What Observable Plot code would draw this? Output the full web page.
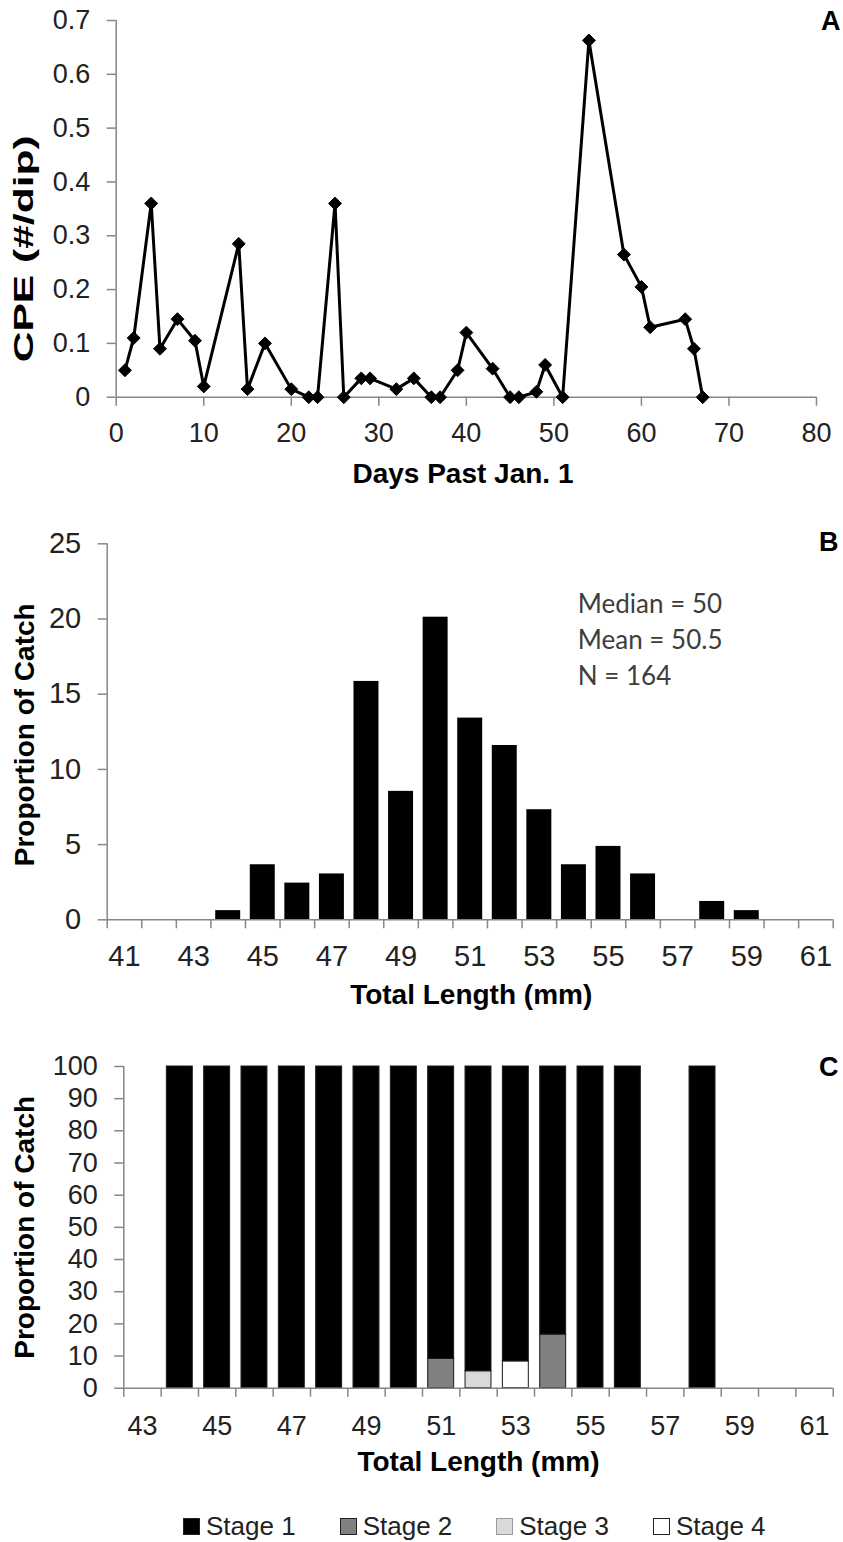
<!DOCTYPE html>
<html>
<head>
<meta charset="utf-8">
<script src="https://cdn.jsdelivr.net/npm/d3@7"></script>
<script src="https://cdn.jsdelivr.net/npm/@observablehq/plot@0.6"></script>
<style>
  body { margin: 0; background: #fff; }
  #fig { width: 843px; }
  #fig svg { display: block; }
  .legend { position: relative; height: 62px; width: 843px;
    font-family: 'Liberation Sans', Arial, sans-serif; font-size: 26px; color: #222; }
  .legend .row { position: absolute; left: 183px; top: 31px; display: flex; gap: 44px; line-height: 30px; white-space: nowrap; }
  .legend .sw { display: inline-block; width: 15px; height: 15px; border: 1px solid #222; margin-right: 6px; vertical-align: baseline; }
</style>
</head>
<body>
<div id="fig"></div>
<script>
// ---- Panel A: catch per effort by day ----
const days = [1, 2, 4, 5, 7, 9, 10, 14, 15, 17, 20, 22, 23, 25, 26, 28, 29, 32, 34, 36, 37, 39, 40, 43, 45, 46, 48, 49, 51, 54, 58, 60, 61, 65, 66, 67];
const cpe  = [0.05, 0.11, 0.36, 0.09, 0.145, 0.105, 0.02, 0.285, 0.015, 0.10, 0.015, 0, 0, 0.36, 0, 0.035, 0.035, 0.015, 0.035, 0, 0, 0.05, 0.12, 0.053, 0, 0, 0.01, 0.06, 0, 0.663, 0.265, 0.205, 0.13, 0.145, 0.09, 0];
const dayTicks = [0, 10, 20, 30, 40, 50, 60, 70, 80];
const cpeTicks = [0, 0.1, 0.2, 0.3, 0.4, 0.5, 0.6, 0.7];

// ---- Panel B: length frequency (percent of catch) ----
const lengthsB = [41, 42, 43, 44, 45, 46, 47, 48, 49, 50, 51, 52, 53, 54, 55, 56, 57, 58, 59, 60, 61];
const pctB     = [0, 0, 0, 0.61, 3.66, 2.44, 3.05, 15.85, 8.54, 20.12, 13.41, 11.59, 7.32, 3.66, 4.88, 3.05, 0, 1.22, 0.61, 0, 0];
const lengthLabelsB = [41, 43, 45, 47, 49, 51, 53, 55, 57, 59, 61];
const pctTicksB = [0, 5, 10, 15, 20, 25];
const medianLen = 50, meanLen = 50.5, nFish = 164;

// ---- Panel C: developmental stage by length ----
const stageNames  = ["Stage 1", "Stage 2", "Stage 3", "Stage 4"];
const stageColors = ["#000000", "#808080", "#d9d9d9", "#ffffff"];
const lengthsC = [44, 45, 46, 47, 48, 49, 50, 51, 52, 53, 54, 55, 56, 58];
const stage1Pct = [100, 100, 100, 100, 100, 100, 100, 90.91, 94.74, 91.67, 83.33, 100, 100, 100];
const stage2Pct = [0, 0, 0, 0, 0, 0, 0, 9.09, 0, 0, 16.67, 0, 0, 0];
const stage3Pct = [0, 0, 0, 0, 0, 0, 0, 0, 5.26, 0, 0, 0, 0, 0];
const stage4Pct = [0, 0, 0, 0, 0, 0, 0, 0, 0, 8.33, 0, 0, 0, 0];
const lengthRangeC = [43, 61];
const lengthLabelsC = [43, 45, 47, 49, 51, 53, 55, 57, 59, 61];
const pctTicksC = [0, 10, 20, 30, 40, 50, 60, 70, 80, 90, 100];

// ---- shared styling ----
const axisGray = "#868686";
const labelInk = "#222";
const sans = "'Liberation Sans', Arial, sans-serif";
const baseStyle = {fontFamily: sans, fontSize: "27px", color: labelInk, background: "white", overflow: "visible"};

const cpeRows = days.map((d, i) => ({day: d, cpe: cpe[i]}));
const lenRowsB = lengthsB.map((l, i) => ({len: l, pct: pctB[i]}));
// lower stages first so Stage 1 stacks on top
const stageRows = [];
lengthsC.forEach((l, i) => {
  const parts = [stage2Pct[i], stage3Pct[i], stage4Pct[i], stage1Pct[i]];
  const names = [stageNames[1], stageNames[2], stageNames[3], stageNames[0]];
  parts.forEach((p, j) => { if (p > 0) stageRows.push({len: l, stage: names[j], pct: p}); });
});
// one-millimetre class boundaries around integer lengths
const edges = (lo, hi) => d3.range(lo - 0.5, hi + 1, 1);

const cpeLabel = "CPE (#/dip)";

// Panel A
const chartA = Plot.plot({
  width: 843, height: 510,
  marginLeft: 115.7, marginRight: 27, marginTop: 20, marginBottom: 113.3,
  style: baseStyle,
  x: {domain: [0, 80]},
  y: {domain: [0, 0.7]},
  marks: [
    Plot.ruleY([0], {stroke: axisGray, strokeWidth: 1.5}),
    Plot.ruleX([0], {stroke: axisGray, strokeWidth: 1.5}),
    Plot.axisX({ticks: dayTicks, tickSize: 9, tickPadding: 17, stroke: axisGray, fill: labelInk, strokeWidth: 1.5, label: null, tickFormat: d => String(d)}),
    Plot.axisY({ticks: cpeTicks, tickSize: 9, tickPadding: 17, stroke: axisGray, fill: labelInk, strokeWidth: 1.5, label: null, tickFormat: d => String(d)}),
    Plot.line(cpeRows, {x: "day", y: "cpe", stroke: "black", strokeWidth: 3}),
    Plot.dot(cpeRows, {x: "day", y: "cpe", symbol: "diamond2", r: 5.8, fill: "black", stroke: "black", strokeWidth: 1}),
    Plot.text([cpeLabel], {frameAnchor: "left", rotate: -90, dx: -91.7, dy: 40, lineAnchor: "middle", textAnchor: "middle", fontWeight: "bold", fontSize: 28, fill: "black"}),
    Plot.text(["Days Past Jan. 1"], {frameAnchor: "bottom", dx: -3.4, dy: 76.8, lineAnchor: "middle", textAnchor: "middle", fontWeight: "bold", fontSize: 28, fill: "black"}),
    Plot.text(["A"], {frameAnchor: "top-right", dx: 24, dy: -10, lineAnchor: "top", textAnchor: "end", fontWeight: "bold", fontSize: 27, fill: "black"})
  ]
});

// Panel B
const chartB = Plot.plot({
  width: 843, height: 520,
  marginLeft: 106.7, marginRight: 10.3, marginTop: 33.3, marginBottom: 110.7,
  style: {...baseStyle, fontSize: "29px"},
  x: {domain: [lengthsB[0] - 0.5, lengthsB[lengthsB.length - 1] + 0.5]},
  y: {domain: [0, 25]},
  marks: [
    Plot.rectY(lenRowsB, {x1: d => d.len - 0.5, x2: d => d.len + 0.5, y: "pct", fill: "black", insetLeft: 4.8, insetRight: 4.8}),
    Plot.ruleY([0], {stroke: axisGray, strokeWidth: 1.5}),
    Plot.ruleX([lengthsB[0] - 0.5], {stroke: axisGray, strokeWidth: 1.5}),
    Plot.axisX({ticks: edges(lengthsB[0], lengthsB[lengthsB.length - 1]), tickSize: 9, stroke: axisGray, strokeWidth: 1.5, label: null, tickFormat: () => ""}),
    Plot.axisX({ticks: lengthLabelsB, tickSize: 0, tickPadding: 25.7, fill: labelInk, label: null, tickFormat: d => String(d)}),
    Plot.axisY({ticks: pctTicksB, tickSize: 9, tickPadding: 17, stroke: axisGray, fill: labelInk, strokeWidth: 1.5, label: null, tickFormat: d => String(d)}),
    Plot.text([`Median = ${medianLen}\nMean = ${meanLen}\nN = ${nFish}`], {frameAnchor: "top-left", dx: 470.6, dy: 43.4, lineAnchor: "top", textAnchor: "start", lineHeight: 1.385, fontFamily: "Lato, 'Open Sans', sans-serif", fontSize: 26, fill: "#3d3d3d"}),
    Plot.text(["Proportion of Catch"], {frameAnchor: "left", rotate: -90, dx: -81.7, dy: 3, lineAnchor: "middle", textAnchor: "middle", fontWeight: "bold", fontSize: 28, fill: "black"}),
    Plot.text(["Total Length (mm)"], {frameAnchor: "bottom", dx: 1, dy: 75.7, lineAnchor: "middle", textAnchor: "middle", fontWeight: "bold", fontSize: 28, fill: "black"}),
    Plot.text(["B"], {frameAnchor: "top-right", dx: 5.3, dy: -11.6, lineAnchor: "top", textAnchor: "end", fontWeight: "bold", fontSize: 27, fill: "black"})
  ]
});

// Panel C
const chartC = Plot.plot({
  width: 843, height: 450,
  marginLeft: 123.3, marginRight: 10.3, marginTop: 36, marginBottom: 92.3,
  style: baseStyle,
  x: {domain: [lengthRangeC[0] - 0.5, lengthRangeC[1] + 0.5]},
  y: {domain: [0, 100]},
  color: {domain: stageNames, range: stageColors},
  marks: [
    Plot.rectY(stageRows, {x1: d => d.len - 0.5, x2: d => d.len + 0.5, y: "pct", fill: "stage", stroke: "#1a1a1a", strokeWidth: 1, insetLeft: 5.7, insetRight: 5.7}),
    Plot.ruleY([0], {stroke: axisGray, strokeWidth: 1.5}),
    Plot.ruleX([lengthRangeC[0] - 0.5], {stroke: axisGray, strokeWidth: 1.5}),
    Plot.axisX({ticks: edges(lengthRangeC[0], lengthRangeC[1]), tickSize: 9, stroke: axisGray, strokeWidth: 1.5, label: null, tickFormat: () => ""}),
    Plot.axisX({ticks: lengthLabelsC, tickSize: 0, tickPadding: 28, fill: labelInk, label: null, tickFormat: d => String(d)}),
    Plot.axisY({ticks: pctTicksC, tickSize: 9, tickPadding: 17, stroke: axisGray, fill: labelInk, strokeWidth: 1.5, label: null, tickFormat: d => String(d)}),
    Plot.text(["Proportion of Catch"], {frameAnchor: "left", rotate: -90, dx: -98.3, dy: 0, lineAnchor: "middle", textAnchor: "middle", fontWeight: "bold", fontSize: 28, fill: "black"}),
    Plot.text(["Total Length (mm)"], {frameAnchor: "bottom", dx: 0, dy: 74, lineAnchor: "middle", textAnchor: "middle", fontWeight: "bold", fontSize: 28, fill: "black"}),
    Plot.text(["C"], {frameAnchor: "top-right", dx: 5.3, dy: -9.3, lineAnchor: "top", textAnchor: "end", fontWeight: "bold", fontSize: 27, fill: "black"})
  ]
});

// the CPE axis title is set stretched along its length
d3.select(chartA).selectAll("text").filter(function () { return this.textContent === cpeLabel; })
  .attr("textLength", 227).attr("lengthAdjust", "spacingAndGlyphs");

const fig = document.getElementById("fig");
fig.append(chartA, chartB, chartC);

// stage legend below the charts
const legend = d3.select(fig).append("div").attr("class", "legend");
const row = legend.append("div").attr("class", "row");
stageNames.forEach((name, i) => {
  const item = row.append("span");
  item.append("span").attr("class", "sw")
    .style("background", stageColors[i])
    .style("border-color", i === 2 ? "#9a9a9a" : "#222");
  item.append("span").text(name);
});
</script>
</body>
</html>
